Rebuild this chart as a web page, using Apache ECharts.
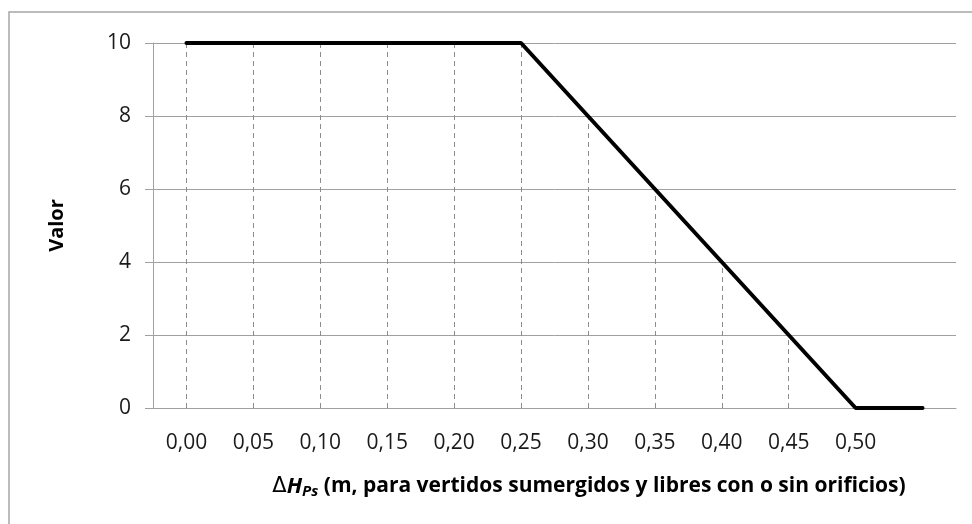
<!DOCTYPE html>
<html>
<head>
<meta charset="utf-8">
<script src="https://cdn.jsdelivr.net/npm/echarts@6/dist/echarts.min.js"></script>
<style>
  html, body { margin: 0; padding: 0; background: #fff; }
  #chart { width: 972px; height: 524px; }
</style>
</head>
<body>
<div id="chart"></div>
<script>
// categories (last one is unlabeled in the original)
var xLabels = ['0,00', '0,05', '0,10', '0,15', '0,20', '0,25', '0,30', '0,35', '0,40', '0,45', '0,50', ''];
var valores = [10, 10, 10, 10, 10, 10, 8, 6, 4, 2, 0, 0];
var yTicks = [0, 2, 4, 6, 8, 10];

var font = 'Open Sans';
var chart = echarts.init(document.getElementById('chart'));

// drop lines from axis up to each point
var dropLines = [];
xLabels.forEach(function (c, i) {
  if (valores[i] > 0) {
    dropLines.push([{ coord: [i, 0] }, { coord: [i, valores[i]] }]);
  }
});

var option = {
  animation: false,
  backgroundColor: '#fff',
  graphic: [{
    type: 'rect',
    shape: { x: 9, y: 12, width: 1100, height: 700 },
    style: { fill: null, stroke: '#a6a6a6', lineWidth: 1.5 },
    silent: true
  }],
  grid: { left: 153, right: 16, top: 43, bottom: 116 },
  xAxis: {
    type: 'category',
    data: xLabels,
    boundaryGap: true,
    axisLine: { show: true, lineStyle: { color: '#a0a0a0', width: 1 } },
    axisTick: { show: false },
    splitLine: { show: false },
    axisLabel: { color: '#1a1a1a', fontSize: 21, fontFamily: font, margin: 25, interval: 0 },
    name: '{d|Δ}{h|H}{s|Ps}{n| (m, para vertidos sumergidos y libres con o sin orificios)}',
    nameLocation: 'middle',
    nameGap: 66,
    nameTextStyle: {
      padding: [0, 0, 0, 69],
      rich: {
        d: { fontSize: 21, fontFamily: 'DejaVu Sans', color: '#000', fontWeight: 'normal' },
        h: { fontSize: 22, fontFamily: font, color: '#000', fontWeight: 'bold', fontStyle: 'italic' },
        s: { fontSize: 15, fontFamily: font, color: '#000', fontWeight: 'bold', fontStyle: 'italic', padding: [10, 0, 0, 0] },
        n: { fontSize: 21, fontFamily: font, color: '#000', fontWeight: 'bold' }
      }
    }
  },
  yAxis: {
    type: 'value',
    min: yTicks[0],
    max: yTicks[yTicks.length - 1],
    interval: 2,
    axisLine: { show: true, lineStyle: { color: '#a0a0a0', width: 1 } },
    axisTick: { show: true, length: 8, lineStyle: { color: '#a0a0a0' } },
    splitLine: { show: true, lineStyle: { color: '#a0a0a0', width: 1 } },
    axisLabel: { color: '#1a1a1a', fontSize: 21, fontFamily: font, margin: 22 },
    name: 'Valor',
    nameLocation: 'middle',
    nameGap: 86,
    nameTextStyle: { fontSize: 20, fontFamily: font, fontWeight: 'bold', color: '#000' }
  },
  series: [{
    type: 'line',
    data: valores,
    symbol: 'none',
    lineStyle: { color: '#000', width: 4, cap: 'round' },
    z: 5,
    markLine: {
      silent: true,
      symbol: ['none', 'none'],
      label: { show: false },
      lineStyle: { color: '#8c8c8c', width: 1, type: [5, 4] },
      data: dropLines,
      z: 3
    }
  }]
};

chart.setOption(option);
</script>
</body>
</html>
